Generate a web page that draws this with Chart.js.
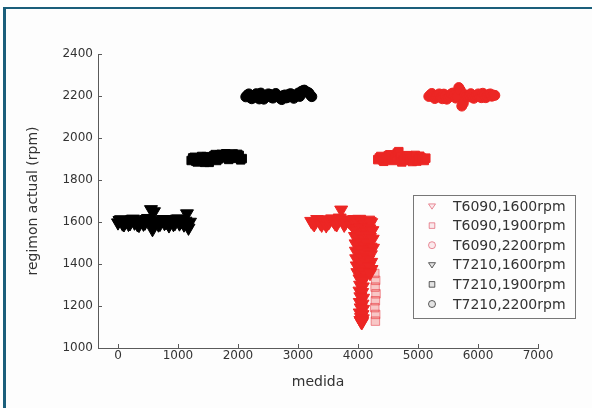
<!DOCTYPE html>
<html>
<head>
<meta charset="utf-8">
<script src="https://cdn.jsdelivr.net/npm/chart.js@4.4.1/dist/chart.umd.min.js"></script>
<style>
    html, body { margin: 0; padding: 0; background: #fff; }
    #wrap { position: relative; width: 592px; height: 408px; overflow: hidden; }
    #frame { position: absolute; left: 3px; top: 7px; width: 600px; height: 420px; box-sizing: border-box;
             border-left: 3px solid #1b5f7b; border-top: 2px solid #1b5f7b; background: #fdfdfd; }
    canvas { position: absolute; left: 0; top: 0; }
</style>
</head>
<body>
<div id="wrap">
    <div id="frame"></div>
    <canvas id="rpmChart" width="592" height="408"></canvas>
</div>
<script>
// Tick labels
const xTicks = [0, 1000, 2000, 3000, 4000, 5000, 6000, 7000];
const yTicks = [1000, 1200, 1400, 1600, 1800, 2000, 2200, 2400];

// T6090 runs (measurement index, engine speed in rpm)
// 1600 rpm: steady part, then the drop-off at the end of the run
const t6090_1600_x = [3220, 3245, 3270, 3295, 3320, 3345, 3370, 3395, 3420, 3445, 3470, 3495, 3520, 3545, 3570, 3595, 3620, 3645, 3670, 3695,
    3720, 3745, 3770, 3795, 3820, 3845, 3870, 3895, 3920, 3945, 3970, 3995, 4020, 4045, 4070, 4095, 4120, 4145, 4170, 4195, 4220,
    3940, 3990, 4040, 4090, 4140, 4190, 4240, 3950, 4000, 4050, 4100, 4150, 4200, 4245, 3960, 4010, 4060, 4110, 4160, 4210, 4250,
    3965, 4015, 4065, 4115, 4165, 4215, 3970, 4020, 4070, 4120, 4170, 4220, 3980, 4030, 4080, 4130, 4180, 4225, 3990, 4040, 4090, 4140, 4200,
    4025, 4070, 4035, 4080, 4025, 4070, 4040, 4085, 4030, 4075, 4045, 4085, 4030, 4075, 4050, 4080, 4040, 4070, 4055, 4065];
const t6090_1600_y = [1604, 1596, 1588, 1601, 1613, 1607, 1595, 1586, 1609, 1598, 1583, 1594, 1600, 1612, 1616, 1603, 1592, 1588, 1607, 1620,
    1658, 1610, 1586, 1597, 1611, 1604, 1597, 1589, 1605, 1613, 1590, 1599, 1614, 1606, 1598, 1589, 1587, 1603, 1610, 1604, 1598,
    1566, 1558, 1571, 1562, 1555, 1568, 1560, 1532, 1525, 1538, 1521, 1534, 1527, 1519, 1497, 1490, 1502, 1486, 1494, 1481, 1476,
    1462, 1455, 1466, 1449, 1458, 1445, 1426, 1418, 1430, 1412, 1421, 1409, 1392, 1384, 1396, 1378, 1388, 1375, 1360, 1352, 1363, 1348, 1356,
    1330, 1322, 1300, 1292, 1272, 1265, 1245, 1238, 1218, 1210, 1192, 1185, 1168, 1160, 1146, 1140, 1132, 1128, 1124, 1122];

const t6090_1900_x = [4280, 4295, 4285, 4300, 4290, 4280, 4295, 4290,
    4330, 4355, 4380, 4405, 4430, 4455, 4480, 4505, 4530, 4555, 4580, 4605, 4630, 4655, 4680, 4705, 4730, 4755,
    4780, 4805, 4830, 4855, 4880, 4905, 4930, 4955, 4980, 5005, 5030, 5055, 5080, 5105, 5130];
const t6090_1900_y = [1355, 1322, 1290, 1258, 1225, 1192, 1160, 1128,
    1897, 1905, 1912, 1896, 1889, 1900, 1905, 1916, 1920, 1903, 1893, 1899, 1910, 1928, 1935, 1912, 1886, 1895,
    1903, 1914, 1916, 1901, 1894, 1888, 1908, 1917, 1890, 1899, 1913, 1905, 1899, 1893, 1904];

const t6090_2200_x = [5180, 5205, 5230, 5255, 5280, 5305, 5330, 5355, 5380, 5405, 5430, 5455, 5480, 5505, 5530, 5555, 5580, 5605, 5630, 5655,
    5680, 5705, 5730, 5755, 5780, 5805, 5830, 5855, 5880, 5905, 5930, 5955, 5980, 6005, 6030, 6055, 6080, 6105, 6130, 6155,
    6180, 6205, 6230, 6255, 6280];
const t6090_2200_y = [2198, 2205, 2212, 2196, 2188, 2199, 2204, 2210, 2193, 2187, 2209, 2200, 2185, 2192, 2201, 2210, 2214, 2203, 2190, 2196,
    2240, 2228, 2152, 2165, 2206, 2198, 2195, 2203, 2211, 2194, 2189, 2197, 2203, 2210, 2197, 2192, 2213, 2204, 2192, 2199,
    2207, 2210, 2199, 2204, 2203];

// T7210 runs
const t7210_1600_x = [0, 25, 50, 75, 100, 125, 150, 175, 200, 225, 250, 275, 300, 325, 350, 375, 400, 425, 450, 475,
    500, 525, 550, 575, 600, 625, 650, 675, 700, 725, 750, 775, 800, 825, 850, 875, 900, 925, 950, 975,
    1000, 1025, 1050, 1075, 1100, 1125, 1150, 1175, 1200];
const t7210_1600_y = [1597, 1608, 1612, 1592, 1588, 1603, 1606, 1590, 1593, 1611, 1615, 1596, 1601, 1588, 1585, 1604, 1609, 1591, 1596, 1613,
    1618, 1599, 1660, 1565, 1650, 1595, 1604, 1587, 1590, 1610, 1613, 1594, 1598, 1612, 1583, 1600, 1611, 1589, 1594, 1614,
    1616, 1592, 1602, 1608, 1587, 1605, 1640, 1572, 1600];

const t7210_1900_x = [1220, 1245, 1270, 1295, 1320, 1345, 1370, 1395, 1420, 1445, 1470, 1495, 1520, 1545, 1570, 1595, 1620, 1645,
    1670, 1695, 1720, 1745, 1770, 1795, 1820, 1845, 1870, 1895, 1920, 1945, 1970, 1995, 2020, 2045, 2070];
const t7210_1900_y = [1893, 1905, 1908, 1890, 1886, 1899, 1902, 1912, 1890, 1884, 1911, 1897, 1884, 1906, 1899, 1915, 1921, 1893,
    1900, 1920, 1922, 1905, 1911, 1925, 1920, 1898, 1913, 1918, 1924, 1903, 1909, 1922, 1917, 1896, 1902];

const t7210_2200_x = [2130, 2155, 2180, 2205, 2230, 2255, 2280, 2305, 2330, 2355, 2380, 2405, 2430, 2455, 2480, 2505, 2530, 2555, 2580, 2605,
    2630, 2655, 2680, 2705, 2730, 2755, 2780, 2805, 2830, 2855, 2880, 2905, 2930, 2955, 2980, 3005, 3030, 3055, 3080, 3105,
    3130, 3155, 3180, 3205, 3230];
const t7210_2200_y = [2196, 2204, 2210, 2192, 2187, 2199, 2203, 2211, 2192, 2186, 2214, 2197, 2185, 2193, 2200, 2210, 2208, 2194, 2190, 2205,
    2212, 2201, 2196, 2188, 2183, 2202, 2205, 2191, 2194, 2209, 2211, 2196, 2189, 2200, 2206, 2214, 2198, 2222, 2225, 2228,
    2222, 2218, 2215, 2205, 2197];

const axisColor = '#5a5a5a';
const textColor = '#333';
const fontFamily = '"DejaVu Sans", sans-serif';

const red = { line: 'rgb(236,38,36)', fill: 'rgb(236,38,36)', faint: 'rgba(236,38,36,0.25)', faintLine: 'rgba(230,60,70,0.55)' };
const black = { line: '#000', fill: '#000', faint: 'rgba(0,0,0,0.25)', faintLine: 'rgba(0,0,0,0.55)' };

// sparse = readings below this rpm are drawn as faint open markers
const series = [
    { label: 'T6090,1600rpm', xs: t6090_1600_x, ys: t6090_1600_y, col: red, style: 'triangle', rot: 180, r: 7.5, sparse: 0 },
    { label: 'T6090,1900rpm', xs: t6090_1900_x, ys: t6090_1900_y, col: red, style: 'rect', rot: 0, r: 6, sparse: 1500 },
    { label: 'T6090,2200rpm', xs: t6090_2200_x, ys: t6090_2200_y, col: red, style: 'circle', rot: 0, r: 5, sparse: 0 },
    { label: 'T7210,1600rpm', xs: t7210_1600_x, ys: t7210_1600_y, col: black, style: 'triangle', rot: 180, r: 7.5, sparse: 0 },
    { label: 'T7210,1900rpm', xs: t7210_1900_x, ys: t7210_1900_y, col: black, style: 'rect', rot: 0, r: 6, sparse: 0 },
    { label: 'T7210,2200rpm', xs: t7210_2200_x, ys: t7210_2200_y, col: black, style: 'circle', rot: 0, r: 5, sparse: 0 }
];

// Small inward tick marks on both axes
const inwardTicks = {
    id: 'inwardTicks',
    afterDatasetsDraw(chart) {
        const { ctx, chartArea, scales: { x, y } } = chart;
        ctx.save();
        ctx.strokeStyle = axisColor;
        ctx.lineWidth = 1;
        ctx.beginPath();
        x.ticks.forEach(t => {
            const px = Math.round(x.getPixelForValue(t.value)) + 0.5;
            ctx.moveTo(px, chartArea.bottom);
            ctx.lineTo(px, chartArea.bottom - 4);
        });
        y.ticks.forEach(t => {
            const py = Math.round(y.getPixelForValue(t.value)) + 0.5;
            ctx.moveTo(chartArea.left, py);
            ctx.lineTo(chartArea.left + 4, py);
        });
        ctx.stroke();
        ctx.restore();
    }
};

// Boxed legend sitting inside the plot, lower right
function legendMarker(ctx, style, rot, x, y, r) {
    ctx.beginPath();
    if (style === 'circle') {
        ctx.arc(x, y, r, 0, Math.PI * 2);
    } else if (style === 'rect') {
        ctx.rect(x - r * 0.8, y - r * 0.8, r * 1.6, r * 1.6);
    } else {
        const s = rot === 180 ? 1 : -1;
        ctx.moveTo(x - r, y - s * r * 0.6);
        ctx.lineTo(x + r, y - s * r * 0.6);
        ctx.lineTo(x, y + s * r * 0.9);
        ctx.closePath();
    }
    ctx.fill();
    ctx.stroke();
}

const boxLegend = {
    id: 'boxLegend',
    afterDraw(chart) {
        const ctx = chart.ctx;
        const left = 413, top = 195, w = 162, h = 123, row = 19.6;
        ctx.save();
        ctx.fillStyle = '#fdfdfd';
        ctx.fillRect(left, top, w, h);
        ctx.strokeStyle = '#777';
        ctx.lineWidth = 1;
        ctx.strokeRect(left + 0.5, top + 0.5, w, h);
        ctx.font = '14px ' + fontFamily;
        ctx.textBaseline = 'middle';
        series.forEach((s, i) => {
            const cy = top + 11 + i * row;
            ctx.strokeStyle = s.col === red ? 'rgba(220,70,90,0.6)' : 'rgba(40,40,40,0.75)';
            ctx.fillStyle = s.col === red ? 'rgba(236,120,140,0.15)' : 'rgba(0,0,0,0.1)';
            ctx.lineWidth = 1;
            legendMarker(ctx, s.style, s.rot, left + 19, cy, 3.5);
            ctx.fillStyle = textColor;
            ctx.fillText(s.label, left + 40, cy + 1);
        });
        ctx.restore();
    }
};

const rpmCtx = document.getElementById('rpmChart').getContext('2d');
new Chart(rpmCtx, {
    type: 'scatter',
    data: {
        datasets: series.map(s => ({
            label: s.label,
            data: s.xs.map((x, i) => ({ x: x, y: s.ys[i] })),
            pointStyle: s.style,
            pointRotation: s.rot,
            pointRadius: s.r,
            pointBorderWidth: 1,
            borderColor: c => (c.raw && c.raw.y < s.sparse) ? s.col.faintLine : s.col.line,
            backgroundColor: c => (c.raw && c.raw.y < s.sparse) ? s.col.faint : s.col.fill
        }))
    },
    options: {
        responsive: false,
        animation: false,
        layout: { padding: { left: 10, right: 54, top: 54, bottom: 0 } },
        scales: {
            x: {
                type: 'linear',
                min: -333,
                max: 7000,
                afterBuildTicks: scale => { scale.ticks = xTicks.map(v => ({ value: v })); },
                afterFit: scale => { scale.height = 60; },
                grid: { display: false, drawTicks: false },
                border: { display: true, color: axisColor, width: 1 },
                ticks: { color: textColor, font: { family: fontFamily, size: 12 }, padding: 1, maxRotation: 0, autoSkip: false, callback: v => String(v) },
                title: { display: true, text: 'medida', color: textColor, font: { family: fontFamily, size: 14 }, padding: { top: 0, bottom: 17 } }
            },
            y: {
                min: 1000,
                max: 2400,
                afterBuildTicks: scale => { scale.ticks = yTicks.map(v => ({ value: v })); },
                afterFit: scale => { scale.width = 88; },
                grid: { display: false, drawTicks: false },
                border: { display: true, color: axisColor, width: 1 },
                ticks: { color: textColor, font: { family: fontFamily, size: 12 }, padding: 5, callback: v => String(v) },
                title: { display: true, text: 'regimon actual (rpm)', color: textColor, font: { family: fontFamily, size: 14 }, padding: { top: 15, bottom: 0 } }
            }
        },
        plugins: {
            legend: { display: false },
            tooltip: { enabled: false }
        }
    },
    plugins: [inwardTicks, boxLegend]
});
</script>
</body>
</html>
